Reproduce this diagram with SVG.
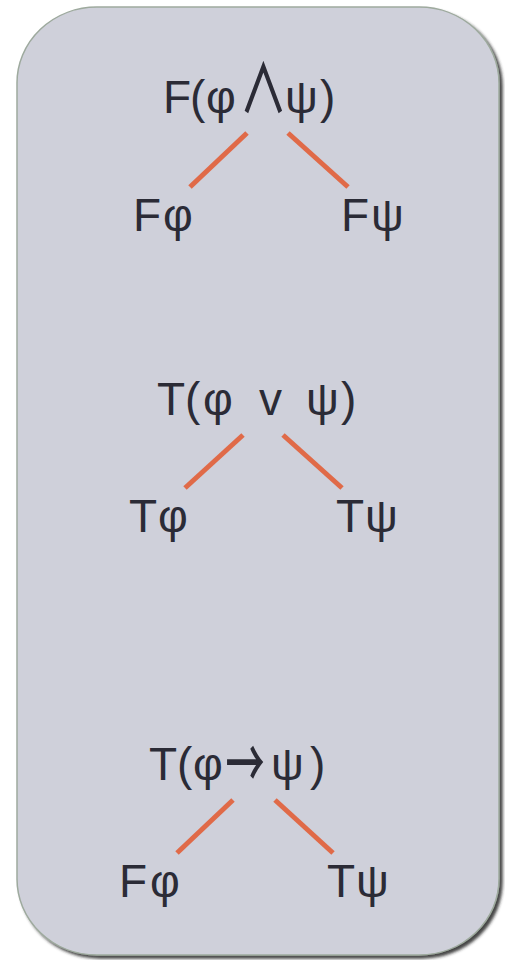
<svg xmlns="http://www.w3.org/2000/svg" width="505" height="960" viewBox="0 0 505 960">
<defs>
<filter id="sh" x="-5%" y="-5%" width="115%" height="115%">
<feDropShadow dx="3" dy="3" stdDeviation="1.8" flood-color="#282828" flood-opacity="0.85"/>
</filter>
</defs>
<style>
text{font-family:"Liberation Sans",Arial,sans-serif;font-size:46px;fill:#2b2b36}
text.op{font-family:"Noto Sans CJK JP",sans-serif;text-anchor:middle}
.c line{stroke:#e06a48;stroke-width:5}
</style>
<rect x="17" y="7" width="482" height="948" rx="80" ry="76" fill="#cfd0da" stroke="#9eaa9e" stroke-width="1.5" filter="url(#sh)"/>
<g id="n1"><text y="113"><tspan x="163">F</tspan><tspan x="190">(</tspan><tspan x="206">φ</tspan><tspan x="285">ψ</tspan><tspan x="320">)</tspan></text><text class="op" font-size="52" font-weight="500" transform="translate(263.5,113) scale(1.05,1.45)">∧</text></g>
<g id="n2"><text y="231"><tspan x="133">F</tspan><tspan x="163">φ</tspan></text></g>
<g id="n3"><text y="231"><tspan x="341">F</tspan><tspan x="371">ψ</tspan></text></g>
<g id="n4"><text y="415"><tspan x="157">T</tspan><tspan x="185">(</tspan><tspan x="203">φ</tspan><tspan x="259">v</tspan><tspan x="306">ψ</tspan><tspan x="341">)</tspan></text></g>
<g id="n5"><text y="532"><tspan x="129">T</tspan><tspan x="158">φ</tspan></text></g>
<g id="n6"><text y="532"><tspan x="336">T</tspan><tspan x="365">ψ</tspan></text></g>
<g id="n7"><text y="780"><tspan x="149">T</tspan><tspan x="177">(</tspan><tspan x="193">φ</tspan><tspan x="271">ψ</tspan><tspan x="310">)</tspan></text><text class="op" font-size="40" font-weight="500" y="15" transform="translate(245,766) scale(0.85,1.5)">→</text></g>
<g id="n8"><text y="897"><tspan x="119">F</tspan><tspan x="150">φ</tspan></text></g>
<g id="n9"><text y="897"><tspan x="327">T</tspan><tspan x="356">ψ</tspan></text></g>
<g class="c" id="connectors">
<line x1="247" y1="133" x2="190" y2="187"/>
<line x1="288" y1="133" x2="348" y2="187"/>
<line x1="243" y1="435" x2="185" y2="488"/>
<line x1="283" y1="435" x2="342" y2="488"/>
<line x1="233" y1="800" x2="177" y2="853"/>
<line x1="275" y1="800" x2="333" y2="853"/>
</g>
</svg>
